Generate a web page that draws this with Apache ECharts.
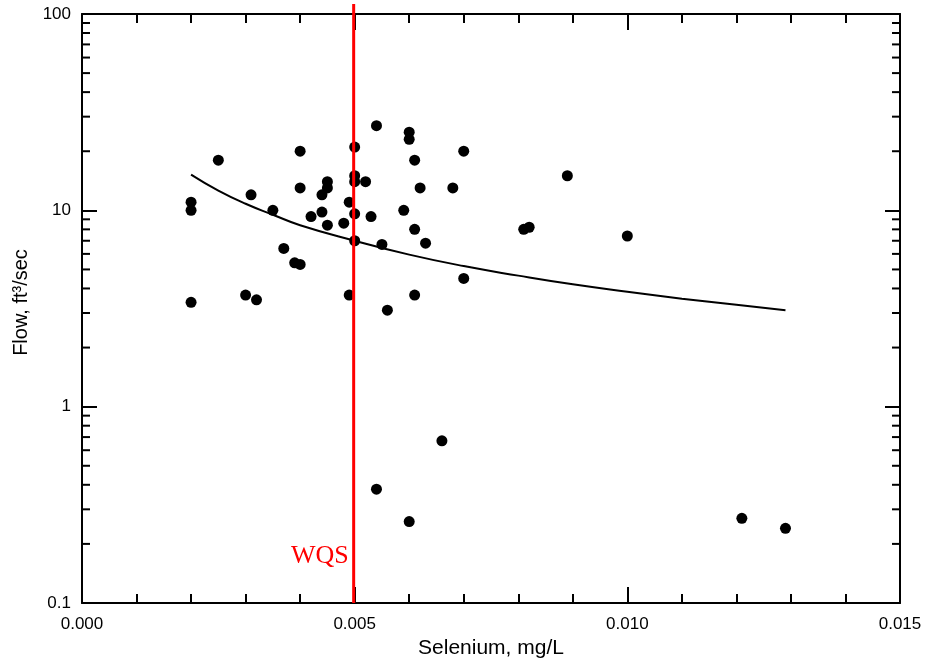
<!DOCTYPE html>
<html>
<head>
<meta charset="utf-8">
<script src="https://cdn.jsdelivr.net/npm/echarts@6/dist/echarts.min.js"></script>
<style>html,body{margin:0;padding:0;background:#fff}#c{width:926px;height:658px}</style>
</head>
<body>
<div id="c"></div>
<script>
// Selenium (mg/L) vs Flow (ft3/sec) observations
const seleniumX = [0.002,0.002,0.002,0.0025,0.0031,0.0035,0.003,0.0032,0.0037,0.0039,0.004,0.004,0.004,0.0042,0.0044,0.0044,0.0045,0.0045,0.0045,0.0048,0.0049,0.0049,0.005,0.005,0.005,0.005,0.005,0.0052,0.0053,0.0054,0.0055,0.0056,0.0059,0.006,0.006,0.0061,0.0062,0.0061,0.0063,0.0061,0.0068,0.007,0.007,0.0089,0.0081,0.0082,0.010,0.0066,0.0054,0.006,0.0121,0.0129];
const flowY = [11,10,3.4,18,12,10,3.7,3.5,6.4,5.4,5.3,20,13,9.3,9.8,12,14,13,8.4,8.6,11,3.7,21,15,14,9.6,7.0,14,9.3,27,6.7,3.1,10,25,23,18,13,8.0,6.8,3.7,13,20,4.5,15,8.0,8.2,7.4,0.67,0.38,0.26,0.27,0.24];
// fitted curve
const curveX = [0.002,0.0025,0.003,0.0035,0.004,0.005,0.006,0.007,0.008,0.009,0.010,0.011,0.012,0.0129];
const curveY = [15.2,12.6,10.8,9.5,8.4,7.0,5.95,5.2,4.65,4.2,3.85,3.55,3.3,3.1];
// standard
const wqsValue = 0.005;
const wqsLabel = 'WQS';
// log minor tick values
const yMinorTicks = [0.2,0.3,0.4,0.5,0.6,0.7,0.8,0.9,2,3,4,5,6,7,8,9,20,30,40,50,60,70,80,90];
const xLabels = ['0.000','0.005','0.010','0.015'];

const chart = echarts.init(document.getElementById('c'));
const axisLine = {show:true, onZero:false, lineStyle:{color:'#000', width:2}};
const tickStyle = {color:'#000', width:2};
const font = 'Liberation Sans, Arial, sans-serif';

const xBase = {
  type:'value', min:0, max:0.015, interval:0.005,
  axisLine: axisLine, splitLine:{show:false},
  axisTick:{show:true, inside:true, length:16, lineStyle:tickStyle},
  minorTick:{show:true, splitNumber:5, length:9, lineStyle:tickStyle}
};
const yBase = {
  type:'log', logBase:10, min:0.1, max:100,
  axisLine: axisLine, splitLine:{show:false},
  axisTick:{show:true, inside:true, length:15, lineStyle:tickStyle}
};

chart.setOption({
  animation:false,
  backgroundColor:'#fff',
  grid:{left:82, right:26, top:14, bottom:55, containLabel:false, outerBoundsMode:'none'},
  xAxis:[
    Object.assign({}, xBase, {
      position:'bottom',
      name:'Selenium, mg/L', nameLocation:'middle', nameGap:29,
      nameTextStyle:{fontFamily:font, fontSize:21, color:'#000'},
      axisLabel:{show:true, margin:13, fontFamily:font, fontSize:17, color:'#000',
        formatter:(v)=>{const i=Math.round(v/0.005); return xLabels[i]!==undefined?xLabels[i]:v.toFixed(3);}}
    }),
    Object.assign({}, xBase, {position:'top', axisLabel:{show:false}})
  ],
  yAxis:[
    Object.assign({}, yBase, {
      position:'left',
      name:'Flow, ft³/sec', nameLocation:'middle', nameGap:50,
      nameTextStyle:{fontFamily:font, fontSize:20, color:'#000', padding:[0,0,0,12]},
      axisLabel:{show:true, margin:11, fontFamily:font, fontSize:17, color:'#000',
        formatter:(v)=>String(v)}
    }),
    Object.assign({}, yBase, {position:'right', axisLabel:{show:false}})
  ],
  series:[
    {
      type:'custom', name:'minorTicks', silent:true, xAxisIndex:0, yAxisIndex:0,
      data: yMinorTicks.map(v=>[0, v]),
      encode:{x:0, y:1},
      renderItem:function(params, api){
        const v = api.value(1);
        const l = api.coord([0, v]);
        const r = api.coord([0.015, v]);
        return {type:'group', children:[
          {type:'line', shape:{x1:l[0], y1:l[1], x2:l[0]+8, y2:l[1]}, style:{stroke:'#000', lineWidth:2}},
          {type:'line', shape:{x1:r[0], y1:r[1], x2:r[0]-8, y2:r[1]}, style:{stroke:'#000', lineWidth:2}}
        ]};
      }
    },
    {
      type:'line', name:'fit', smooth:0.5, symbol:'none',
      data: curveX.map((x,i)=>[x, curveY[i]]),
      lineStyle:{color:'#000', width:2}, z:3
    },
    {
      type:'scatter', name:'obs', symbol:'circle', symbolSize:11,
      data: seleniumX.map((x,i)=>[x, flowY[i]]),
      itemStyle:{color:'#000', opacity:1}, z:4
    },
    {
      type:'custom', name:'wqs', silent:true, clip:false, z:5,
      data:[[wqsValue, 100]],
      encode:{x:0, y:1},
      renderItem:function(params, api){
        const x = api.value(0);
        const t = api.coord([x, 100]);
        const b = api.coord([x, 0.1]);
        return {type:'group', children:[
          {type:'line', shape:{x1:t[0]-1, y1:t[1]-10, x2:t[0]-1, y2:b[1]}, style:{stroke:'#ff0000', lineWidth:3}},
          {type:'text', x:t[0]-6, y:b[1]-34, style:{text:wqsLabel, fill:'#ff0000', font:'26px "Liberation Serif", "Times New Roman", serif', align:'right', verticalAlign:'bottom'}}
        ]};
      }
    }
  ]
});
</script>
</body>
</html>
